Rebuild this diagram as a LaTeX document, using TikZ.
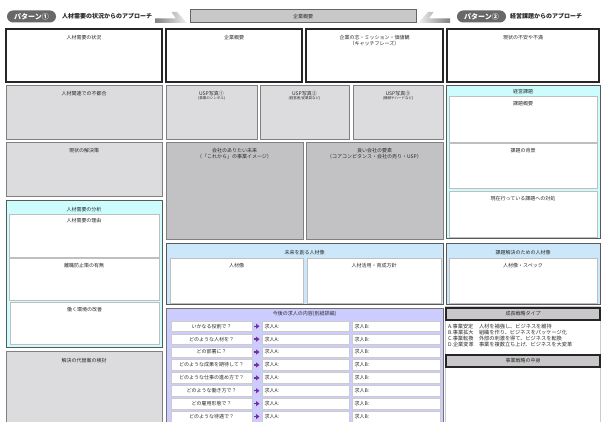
\documentclass[tikz,border=0pt]{standalone}
\usepackage{fontspec}
\setmainfont{Noto Sans CJK JP}
\usetikzlibrary{arrows.meta,calc}
\definecolor{txt}{HTML}{2A2A2A}
\definecolor{lgray}{HTML}{DCDBDD}
\definecolor{dgray}{HTML}{C2C1C3}
\definecolor{hgray}{HTML}{C9C7C9}
\definecolor{cyanp}{HTML}{CCFCFC}
\definecolor{bluep}{HTML}{CBE7F9}
\definecolor{lavp}{HTML}{CCCCFF}
\definecolor{pillc}{HTML}{686868}
\definecolor{ptr}{HTML}{7A2FA0}
\newcommand\rbox[6]{\node[#1, anchor=north west, minimum width=#5pt, minimum height=#6pt] (#2) at (#3,#4) {};}
\newcommand\ttl[4][5]{\node[lbl, anchor=north] (#2) at ([yshift=-#1pt]#3.north) {#4};}
\begin{document}
\begin{tikzpicture}[x=1pt,y=-1pt,
  every node/.style={inner sep=0pt, outer sep=0pt},
  lbl/.style={text=txt, align=center, font=\fontsize{5}{6.2}\selectfont},
  wbox/.style={draw=black!85, line width=1.3pt, fill=white},
  gbox/.style={draw=black!50, line width=1pt, fill=lgray},
  dbox/.style={draw=black!50, line width=1pt, fill=dgray},
  cpanel/.style={draw=black!65, line width=1pt, fill=cyanp},
  bpanel/.style={draw=black!65, line width=1pt, fill=bluep},
  lpanel/.style={draw=black!55, line width=0.8pt, fill=lavp},
  ibox/.style={draw=black!25, line width=0.6pt, fill=white},
  hbar/.style={draw=black!85, line width=1.2pt, fill=hgray},
  pill/.style={fill=pillc, rounded corners=6pt, minimum width=49pt, minimum height=12pt, text=white, font=\bfseries\fontsize{7}{8}\selectfont},
  appr/.style={text=black!85, font=\bfseries\fontsize{6}{7}\selectfont},
  qcell/.style={draw=black!20, line width=0.5pt, fill=white, minimum height=10.5pt, font=\fontsize{5}{6}\selectfont, text=txt},
  pointer/.style={draw=ptr, line width=1.3pt, -{Triangle[length=3.5pt,width=5pt]}, shorten <=1.5pt, shorten >=2.5pt}
]
\clip (0,0) rectangle (603,422);
\fill[white] (0,0) rectangle (603,422);

% ---------- top row ----------
\node[pill] (p1) at (31.5,16.5) {パターン①};
\node[appr, anchor=west] (p1t) at (62,16.5) {人材需要の状況からのアプローチ};
\rbox{draw=black!60, line width=1pt, fill=hgray}{hdr}{190}{10}{226}{13}
\node[lbl] (hdrt) at (hdr.center) {企業概要};
\node[pill] (p2) at (481.5,16.5) {パターン②};
\node[appr, anchor=west] (p2t) at (510,16.5) {経営課題からのアプローチ};
\shade[left color=black!50, right color=black!5]
  (155,18.5) -- (176,18.5) -- (171.5,12) -- (177,12) -- (187,23) -- (155,23) -- cycle;
\shade[right color=black!50, left color=black!5]
  (450,18.5) -- (429,18.5) -- (433.5,12) -- (428,12) -- (418,23) -- (450,23) -- cycle;

% ---------- row 1 ----------
\rbox{wbox}{A}{6}{29}{156}{53}
\ttl[6]{At}{A}{人材需要の状況}
\rbox{wbox}{B}{166}{29}{136}{53}
\ttl[6]{Bt}{B}{企業概要}
\rbox{wbox}{C}{306}{29}{137}{53}
\ttl[6]{Ct}{C}{企業の志・ミッション・価値観\\（キャッチフレーズ）}
\rbox{wbox}{D}{447}{29}{152}{53}
\ttl[6]{Dt}{D}{現状の不安や不満}

% ---------- row 2 ----------
\rbox{gbox}{E}{6}{86}{156}{54}
\ttl{Et}{E}{人材関連での不都合}
\rbox{gbox}{U1}{166}{86}{91}{54}
\ttl{U1t}{U1}{USP写真①\\[-1.5pt]{\fontsize{3.5}{4}\selectfont (事業のシンボル)}}
\rbox{gbox}{U2}{260}{86}{89}{54}
\ttl{U2t}{U2}{USP写真②\\[-1.5pt]{\fontsize{3.5}{4}\selectfont (経営者/従業員など)}}
\rbox{gbox}{U3}{353}{86}{90}{54}
\ttl{U3t}{U3}{USP写真③\\[-1.5pt]{\fontsize{3.5}{4}\selectfont (機械やハードなど)}}

% ---------- row 3 ----------
\rbox{gbox}{F}{6}{143}{156}{54}
\ttl{Ft}{F}{現状の解決策}
\rbox{dbox}{G}{166}{143}{137}{97}
\ttl[5.5]{Gt}{G}{会社のありたい未来\\（「これから」の事業イメージ）}
\rbox{dbox}{H}{306}{143}{137}{97}
\ttl[5.5]{Ht}{H}{良い会社の要素\\（コアコンピタンス・会社の売り・USP）}

% ---------- right panel: 経営課題 ----------
\rbox{cpanel}{K}{446}{86}{154}{153}
\ttl[3.5]{Kt}{K}{経営課題}
\rbox{ibox}{K1}{449}{96}{148}{46}
\ttl{K1t}{K1}{課題概要}
\rbox{ibox}{K2}{449}{143.5}{148}{45}
\ttl{K2t}{K2}{課題の背景}
\rbox{ibox}{K3}{449}{191}{148}{46}
\ttl{K3t}{K3}{現在行っている課題への対処}

% ---------- left panel: 人材需要の分析 ----------
\rbox{cpanel}{L}{6}{201}{156}{147}
\ttl[6]{Lt}{L}{人材需要の分析}
\rbox{ibox}{L1}{9}{214}{150}{43}
\ttl[4]{L1t}{L1}{人材需要の理由}
\rbox{ibox}{L2}{9}{258}{150}{42}
\ttl[5]{L2t}{L2}{離職防止策の有無}
\rbox{ibox}{L3}{10}{302}{149}{42}
\ttl[5]{L3t}{L3}{働く環境の改善}
\rbox{gbox}{M}{6}{352}{156}{80}
\ttl[6]{Mt}{M}{解決の代替案の検討}

% ---------- middle: 未来を創る人材像 ----------
\rbox{bpanel}{N}{166}{244}{277}{61}
\ttl[6]{Nt}{N}{未来を創る人材像}
\rbox{ibox}{N1}{170}{258}{133}{45}
\ttl[5]{N1t}{N1}{人材像}
\rbox{ibox}{N2}{307}{258}{134}{45}
\ttl[5]{N2t}{N2}{人材活用・育成方針}

% ---------- right: 課題解決のための人材像 ----------
\rbox{bpanel}{P}{446}{244}{154}{61}
\ttl[6.5]{Pt}{P}{課題解決のための人材像}
\rbox{ibox}{P1}{449}{258}{148}{45}
\ttl[5]{P1t}{P1}{人材像・スペック}

% ---------- lavender: 今後の求人の内容 ----------
\rbox{lpanel}{Q}{166}{308}{277}{124}
\ttl[3.5]{Qt}{Q}{今後の求人の内容(別紙詳細)}
\foreach \i/\q in {0/いかなる役割で？,1/どのような人材を？,2/どの部署に？,3/どのような成果を期待して？,4/どのような仕事の進め方で？,5/どのような働き方で？,6/どの雇用形態で？,7/どのような待遇で？}{
  \pgfmathsetmacro\yy{321+12.9*\i}
  \node[qcell, anchor=north west, minimum width=81pt] (q\i) at (171,\yy) {\q};
  \node[qcell, anchor=north west, minimum width=87pt, text width=82pt, align=left] (a\i) at (262,\yy) {求人A:};
  \node[qcell, anchor=north west, minimum width=88pt, text width=83pt, align=left] (b\i) at (352,\yy) {求人B:};
  \draw[pointer] (q\i.east) -- (a\i.west);
}

% ---------- right bottom: 成長戦略 ----------
\rbox{draw=black!20, line width=0.8pt, fill=white}{R}{445}{306}{155}{126}
\rbox{hbar}{S1}{446}{308}{154}{12}
\node[lbl] (S1t) at (S1.center) {成長戦略タイプ};
\node[lbl, anchor=north west, align=left, font=\fontsize{5.2}{6}\selectfont] (strat) at (448,324.5) {%
\makebox[31pt][l]{A.事業安定}人材を補強し、ビジネスを維持\\
\makebox[31pt][l]{B.事業拡大}組織を作り、ビジネスをパッケージ化\\
\makebox[31pt][l]{C.事業転換}外部の刺激を得て、ビジネスを転換\\
\makebox[31pt][l]{D.企業変革}事業を複数立ち上げ、ビジネスを大変革};
\rbox{hbar}{S2}{446}{355}{154}{12}
\node[lbl] (S2t) at (S2.center) {事業戦略の中身};
\end{tikzpicture}
\end{document}
